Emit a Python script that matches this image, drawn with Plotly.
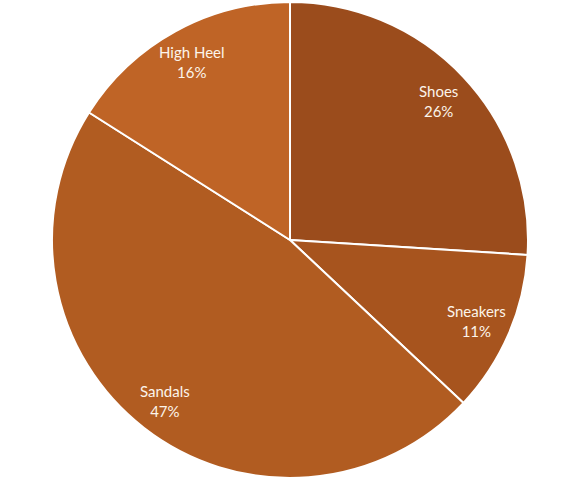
import math
import plotly.graph_objects as go

# Slice data, clockwise from 12 o'clock
categories = ['Shoes', 'Sneakers', 'Sandals', 'High Heel']
shares = [26, 11, 47, 16]
slice_colors = ['#9B4C1C', '#A7541E', '#B15C21', '#BF6426']

fig = go.Figure(go.Pie(
    labels=categories, values=shares,
    sort=False, direction='clockwise', rotation=0,
    marker=dict(colors=slice_colors, line=dict(color='white', width=2)),
    textinfo='none', hoverinfo='label+percent', showlegend=False,
))

# Excel-style labels sit near the outer edge of each slice
total = sum(shares)
start = 0
label_r = 0.5 * 0.855
for name, val in zip(categories, shares):
    mid = (start + val / 2) / total * 2 * math.pi
    start += val
    fig.add_annotation(
        x=0.5 + label_r * math.sin(mid), y=0.5 + label_r * math.cos(mid),
        xref='paper', yref='paper', xanchor='center', yanchor='middle',
        showarrow=False,
        text=f'{name}<br>{round(val / total * 100)}%',
        font=dict(family='Lato', size=15, color='#FCF4EA'),
    )

fig.update_layout(
    width=578, height=481,
    margin=dict(l=52, r=50, t=2, b=3),
    paper_bgcolor='white', plot_bgcolor='white',
)

fig.write_html("out.html", config={'displayModeBar': False},
               post_script="document.body.style.margin='0';")
